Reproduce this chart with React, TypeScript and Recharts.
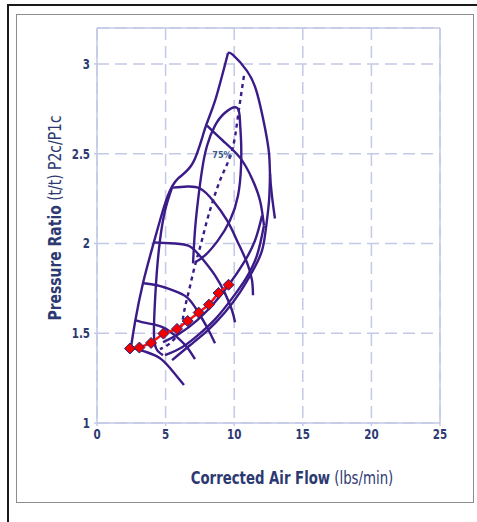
import React from "react";
import {
  LineChart,
  Line,
  XAxis,
  YAxis,
  CartesianGrid,
  ReferenceLine,
  ReferenceDot
} from "recharts";

// Compressor map
type Pt = { x: number; y: number };

const xTicks = [0, 5, 10, 15, 20, 25];
const yTicks = [1, 1.5, 2, 2.5, 3];

// surge line (left boundary)
const surgeLine: Pt[] = [
  { x: 2.48, y: 1.422 }, { x: 2.77, y: 1.561 }, { x: 3.35, y: 1.778 }, { x: 4.08, y: 1.989 },
  { x: 4.59, y: 2.128 }, { x: 5.17, y: 2.267 }, { x: 5.9, y: 2.361 }, { x: 7.0, y: 2.45 },
  { x: 7.87, y: 2.639 }, { x: 8.6, y: 2.794 }, { x: 9.55, y: 3.061 }
];

// speed lines, top to bottom
const speed1: Pt[] = [
  { x: 9.55, y: 3.061 }, { x: 9.91, y: 3.05 }, { x: 10.93, y: 2.961 }, { x: 11.66, y: 2.839 },
  { x: 12.24, y: 2.644 }, { x: 12.54, y: 2.5 }, { x: 12.61, y: 2.389 }, { x: 12.75, y: 2.267 },
  { x: 12.97, y: 2.139 }
];
const speed2: Pt[] = [
  { x: 8.02, y: 2.656 }, { x: 9.18, y: 2.572 }, { x: 10.42, y: 2.478 }, { x: 11.3, y: 2.361 },
  { x: 11.88, y: 2.239 }, { x: 12.17, y: 2.1 }
];
const speed3: Pt[] = [
  { x: 5.54, y: 2.311 }, { x: 6.56, y: 2.317 }, { x: 7.51, y: 2.306 }, { x: 8.45, y: 2.239 },
  { x: 9.48, y: 2.128 }, { x: 10.2, y: 2.017 }, { x: 10.93, y: 1.894 }, { x: 11.3, y: 1.794 },
  { x: 11.37, y: 1.711 }
];
const speed4: Pt[] = [
  { x: 4.08, y: 2.006 }, { x: 5.69, y: 2.0 }, { x: 6.78, y: 1.983 }, { x: 7.65, y: 1.917 },
  { x: 8.6, y: 1.822 }, { x: 9.33, y: 1.722 }, { x: 9.84, y: 1.628 }, { x: 10.06, y: 1.561 }
];
const speed5: Pt[] = [
  { x: 3.43, y: 1.778 }, { x: 4.37, y: 1.767 }, { x: 5.54, y: 1.739 }, { x: 6.56, y: 1.7 },
  { x: 7.29, y: 1.628 }, { x: 8.02, y: 1.533 }, { x: 8.6, y: 1.444 }
];
const speed6: Pt[] = [
  { x: 2.84, y: 1.572 }, { x: 3.64, y: 1.556 }, { x: 4.81, y: 1.533 }, { x: 5.83, y: 1.478 },
  { x: 6.56, y: 1.422 }, { x: 7.14, y: 1.356 }
];
const speed7: Pt[] = [
  { x: 2.62, y: 1.417 }, { x: 3.64, y: 1.394 }, { x: 4.59, y: 1.361 }, { x: 5.32, y: 1.306 },
  { x: 6.34, y: 1.211 }
];

// choke side / efficiency contours
const choke: Pt[] = [
  { x: 12.61, y: 2.389 }, { x: 12.54, y: 2.239 }, { x: 12.32, y: 2.089 }, { x: 12.03, y: 1.961 },
  { x: 11.37, y: 1.85 }, { x: 10.42, y: 1.728 }, { x: 9.33, y: 1.617 }, { x: 8.09, y: 1.517 },
  { x: 6.78, y: 1.433 }, { x: 5.47, y: 1.35 }
];
const contourMid: Pt[] = [
  { x: 12.17, y: 2.1 }, { x: 11.66, y: 1.933 }, { x: 10.86, y: 1.806 }, { x: 9.84, y: 1.694 },
  { x: 8.67, y: 1.583 }, { x: 7.43, y: 1.494 }, { x: 6.2, y: 1.422 }, { x: 4.96, y: 1.378 }
];
const contourIn: Pt[] = [
  { x: 12.03, y: 2.156 }, { x: 11.52, y: 2.017 }, { x: 10.71, y: 1.894 }, { x: 9.69, y: 1.778 },
  { x: 8.53, y: 1.667 }, { x: 7.29, y: 1.572 }, { x: 6.05, y: 1.5 }, { x: 4.81, y: 1.45 }
];
const contourLeft: Pt[] = [
  { x: 5.47, y: 2.311 }, { x: 4.96, y: 2.183 }, { x: 4.59, y: 2.017 }, { x: 4.37, y: 1.85 },
  { x: 4.23, y: 1.683 }, { x: 4.15, y: 1.517 }, { x: 4.3, y: 1.417 }, { x: 4.81, y: 1.378 }
];
const island75: Pt[] = [
  { x: 7.0, y: 1.889 }, { x: 7.14, y: 2.072 }, { x: 7.36, y: 2.239 }, { x: 7.65, y: 2.406 },
  { x: 8.02, y: 2.544 }, { x: 8.6, y: 2.656 }, { x: 9.33, y: 2.728 }, { x: 10.2, y: 2.756 },
  { x: 10.42, y: 2.683 }, { x: 10.5, y: 2.572 }, { x: 10.5, y: 2.433 }, { x: 10.28, y: 2.267 },
  { x: 9.69, y: 2.128 }, { x: 8.82, y: 2.017 }, { x: 7.87, y: 1.933 }, { x: 7.14, y: 1.894 }
];
const peakEff: Pt[] = [
  { x: 10.71, y: 2.933 }, { x: 10.28, y: 2.711 }, { x: 9.84, y: 2.517 }, { x: 9.11, y: 2.378 },
  { x: 8.53, y: 2.256 }, { x: 8.02, y: 2.128 }, { x: 7.51, y: 1.978 }, { x: 7.14, y: 1.878 },
  { x: 6.71, y: 1.739 }, { x: 6.34, y: 1.617 }, { x: 6.05, y: 1.517 }, { x: 5.32, y: 1.444 },
  { x: 4.59, y: 1.411 }
];

// operating points (red)
const opFlow = [2.4, 3.09, 3.94, 4.84, 5.83, 6.61, 7.41, 8.16, 8.86, 9.59];
const opRatio = [1.415, 1.42, 1.446, 1.498, 1.524, 1.568, 1.615, 1.659, 1.724, 1.77];
const opPoints: Pt[] = opFlow.map((x, i) => ({ x, y: opRatio[i] }));

const mapLines: Pt[][] = [
  surgeLine, speed1, speed2, speed3, speed4, speed5, speed6, speed7,
  choke, contourMid, contourIn, contourLeft, island75
];

const PURPLE = "#3a1b88";
const GRID = "#c3c9e6";
const TEXT = "#2d3a72";
const FONT = '"DejaVu Sans Condensed", "DejaVu Sans", sans-serif';

function Diamond(props: any) {
  const { cx, cy, index } = props;
  if (cx == null || cy == null) return null;
  const r = 5.5;
  return (
    <polygon
      key={index}
      points={`${cx},${cy - r} ${cx + r},${cy} ${cx},${cy + r} ${cx - r},${cy}`}
      fill="#f20000"
      stroke="#1f2a86"
      strokeWidth={1}
    />
  );
}

// condensed bold tick text
function Tick(props: any) {
  const { x, y, payload, textAnchor, vertical } = props;
  return (
    <g transform={`translate(${x},${y}) scale(0.82,1)`}>
      <text
        x={0}
        y={0}
        dy={vertical ? "0.35em" : "0.71em"}
        textAnchor={textAnchor}
        fill={TEXT}
        fontSize={14}
        fontWeight={700}
        fontFamily={FONT}
      >
        {payload.value}
      </text>
    </g>
  );
}

export default function App() {
  return (
    <div style={{ position: "absolute", left: 0, top: 0, width: 477, height: 522, background: "#fff", overflow: "hidden" }}>
      {/* outer frame */}
      <div style={{ position: "absolute", left: 7, top: 4, width: 480, height: 530, borderLeft: "2px solid #1a1a1a", borderTop: "2px solid #1a1a1a" }} />
      <div style={{ position: "absolute", left: 16, top: 14, width: 458, height: 489, border: "1px solid #8c8c8c", boxSizing: "border-box" }} />

      <div style={{ position: "absolute", left: 0, top: 0 }}>
        <LineChart width={477} height={522} margin={{ top: 28, right: 37, bottom: 0, left: 0 }}>
          <CartesianGrid stroke={GRID} strokeDasharray="12 6" strokeWidth={1.5} />
          <XAxis
            dataKey="x"
            type="number"
            domain={[0, 25]}
            ticks={xTicks}
            height={99}
            stroke={GRID}
            strokeWidth={1.5}
            tickSize={3}
            tickMargin={3}
            tick={<Tick />}
            allowDuplicatedCategory={false}
          />
          <YAxis
            type="number"
            domain={[1, 3.2]}
            ticks={yTicks}
            width={97}
            stroke={GRID}
            strokeWidth={1.5}
            tickSize={3}
            tickMargin={4}
            tick={<Tick vertical />}
          />
          <ReferenceLine y={3.2} stroke={GRID} strokeWidth={1.5} />
          <ReferenceLine x={25} stroke={GRID} strokeWidth={1.5} />

          {mapLines.map((pts, i) => (
            <Line
              key={"m" + i}
              data={pts}
              dataKey="y"
              type="natural"
              stroke={PURPLE}
              strokeWidth={2.4}
              dot={false}
              activeDot={false}
              isAnimationActive={false}
            />
          ))}
          <Line
            data={peakEff}
            dataKey="y"
            type="natural"
            stroke={PURPLE}
            strokeWidth={2.4}
            strokeDasharray="4 4"
            dot={false}
            activeDot={false}
            isAnimationActive={false}
          />
          <Line
            data={opPoints}
            dataKey="y"
            type="linear"
            stroke="#ff1010"
            strokeWidth={2.5}
            dot={<Diamond />}
            activeDot={false}
            isAnimationActive={false}
          />
          <ReferenceDot
            x={9.11}
            y={2.494}
            r={0}
            fill="none"
            stroke="none"
            label={{ value: "75%", fill: "#3a5a8c", fontSize: 9, fontWeight: 700, fontFamily: FONT }}
          />
        </LineChart>
      </div>

      {/* axis titles */}
      <div
        style={{
          position: "absolute",
          left: 292,
          top: 477,
          transform: "translate(-50%, -50%) scaleX(0.82)",
          whiteSpace: "nowrap",
          fontFamily: FONT,
          fontSize: 18,
          color: TEXT
        }}
      >
        <span style={{ fontWeight: 700 }}>Corrected Air Flow</span> (lbs/min)
      </div>
      <div
        style={{
          position: "absolute",
          left: 54,
          top: 218,
          transform: "translate(-50%, -50%) rotate(-90deg) scaleX(0.86)",
          whiteSpace: "nowrap",
          fontFamily: FONT,
          fontSize: 18,
          color: TEXT
        }}
      >
        <span style={{ fontWeight: 700 }}>Pressure Ratio</span> (t/t) P2c/P1c
      </div>
    </div>
  );
}
